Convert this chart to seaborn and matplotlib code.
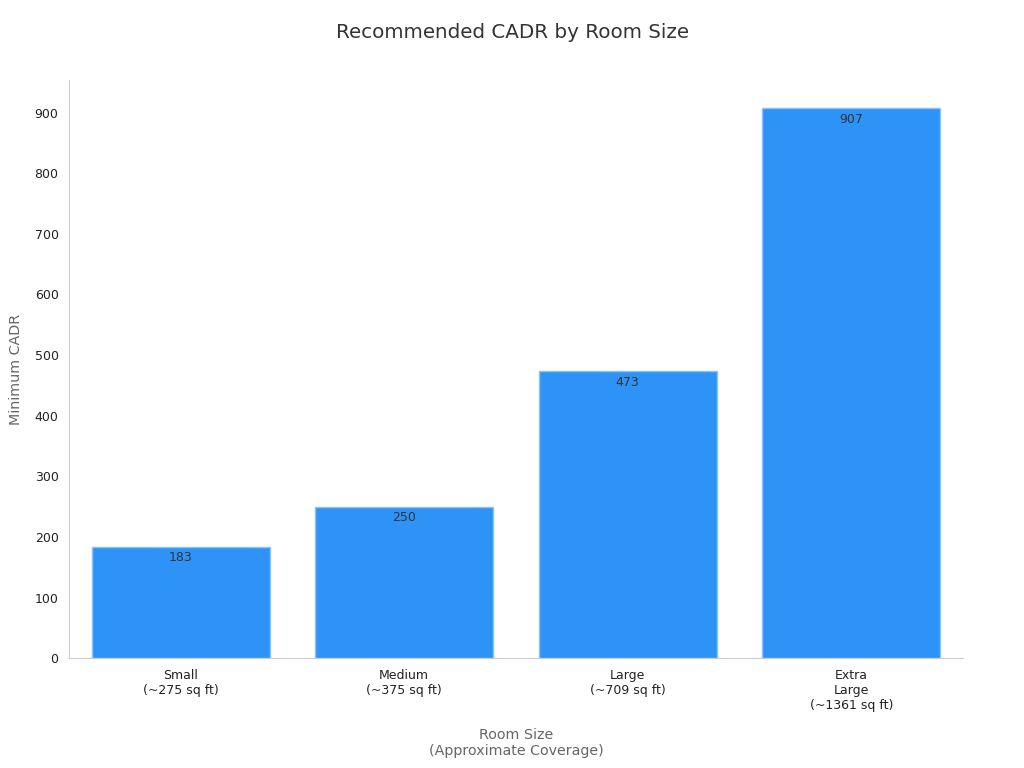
import matplotlib
matplotlib.use("Agg")
import matplotlib.pyplot as plt
import seaborn as sns
import pandas as pd

categories = ["Small\n(~275 sq ft)", "Medium\n(~375 sq ft)", "Large\n(~709 sq ft)", "Extra\nLarge\n(~1361 sq ft)"]
cadr_values = [183, 250, 473, 907]

df = pd.DataFrame({"room": categories, "cadr": cadr_values})

sns.set_theme(style="white")
plt.rcParams['font.family'] = ['DejaVu Sans']

fig = plt.figure(figsize=(10.24, 7.68), dpi=100)
ax = fig.add_axes([0.0674, 0.143, 0.873, 0.753])

sns.barplot(data=df, x="room", y="cadr", color="#2e93f6", saturation=1, width=0.795,
            edgecolor="#8cc4fa", linewidth=1, ax=ax)

for i, v in enumerate(cadr_values):
    ax.annotate(f"{v}", xy=(i, v), xytext=(0, -3), textcoords="offset points",
                ha="center", va="top", fontsize=9, color="#333333")

ax.set_xlim(-0.5, 3.5)
ax.set_ylim(0, 954)
ax.set_yticks(range(0, 901, 100))
ax.tick_params(axis="both", labelsize=9, colors="#222222", length=4, color="#999999", width=0.8)
for s in ["top", "right"]:
    ax.spines[s].set_visible(False)
for s in ["left", "bottom"]:
    ax.spines[s].set_color("#cccccc")
    ax.spines[s].set_linewidth(0.8)

ax.set_xlabel("Room Size\n(Approximate Coverage)", fontsize=10.3, color="#666666", labelpad=12)
ax.set_ylabel("Minimum CADR", fontsize=10.3, color="#666666", labelpad=8)
fig.suptitle("Recommended CADR by Room Size", fontsize=14.3, color="#333333", y=0.97)

fig.savefig("out.png", dpi=100)
